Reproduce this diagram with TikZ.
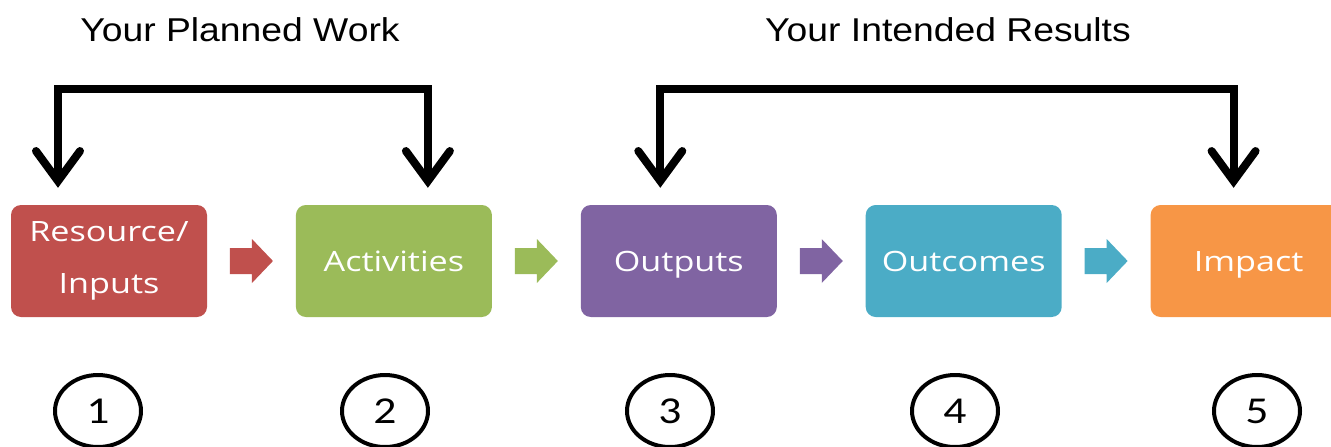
\documentclass[tikz,border=0pt]{standalone}
\usepackage{fontspec}
\usetikzlibrary{arrows.meta,positioning,calc,shapes.geometric}
\newfontfamily\titlefont[FakeStretch=1.13]{Liberation Sans}
\newfontfamily\boxfont[FakeStretch=1.22]{Open Sans}
\newfontfamily\numfont[FakeStretch=1.2]{Carlito}
\definecolor{cred}{HTML}{C0504D}
\definecolor{cgreen}{HTML}{9BBB59}
\definecolor{cpurple}{HTML}{8064A2}
\definecolor{cblue}{HTML}{4BACC6}
\definecolor{corange}{HTML}{F79646}
\begin{document}
\begin{tikzpicture}[x=1pt,y=-1pt,line join=round,line cap=round]
	\tikzset{stage/.style={rounded corners=10pt,minimum width=196pt,minimum height=112pt,inner sep=0pt,text=white,align=center,font=\boxfont\fontsize{28}{52}\selectfont},
		oneline/.style={stage,text height=20pt,text depth=0pt},
		bracket/.style={line width=8pt,line join=miter,line cap=butt,{Straight Barb[length=30pt,width=44pt,line cap=round]}-{Straight Barb[length=30pt,width=44pt,line cap=round]}},
		num/.style={ellipse,draw,line width=4pt,minimum width=86pt,minimum height=72pt,inner sep=0pt,font=\numfont\fontsize{38}{38}\selectfont},
		head/.style={font=\titlefont\fontsize{33}{33}\selectfont}}
	\useasboundingbox (0,0) rectangle (1331,447);
	\node[head] (plan) at (240,30) {Your Planned Work};
	\node[head] (intd) at (948,30) {Your Intended Results};
	\node[stage,fill=cred] (res) at (109,261) {Resource/\\Inputs};
	\node[oneline,fill=cgreen,right=88.5pt of res] (act) {Activities};
	\node[oneline,fill=cpurple,right=88.5pt of act] (out) {Outputs};
	\node[oneline,fill=cblue,right=88.5pt of out] (outc) {Outcomes};
	\node[oneline,fill=corange,right=88.5pt of outc] (imp) {Impact};
	\foreach \a/\b/\c in {res/act/cred,act/out/cgreen,out/outc/cpurple,outc/imp/cblue}
	\fill[\c] ($(\a.east)!.5!(\b.west)$) ++(-21.5,-13) -- ++(22,0) -- ++(0,-9) -- ++(21,22) -- ++(-21,22) -- ++(0,-9) -- ++(-22,0) -- cycle;
	\coordinate (top) at (0,89);
	\draw[bracket] ([xshift=-51pt,yshift=17pt]res.north) -- ([xshift=-51pt]res.north |- top) -- ([xshift=34pt]act.north |- top) -- ([xshift=34pt,yshift=17pt]act.north);
	\draw[bracket] ([xshift=-18.5pt,yshift=17pt]out.north) -- ([xshift=-18.5pt]out.north |- top) -- ([xshift=-15pt]imp.north |- top) -- ([xshift=-15pt,yshift=17pt]imp.north);
	\foreach \x/\k in {98/1,385/2,670/3,955/4,1257/5}
	\node[num] (n\k) at (\x,411) {\k};
\end{tikzpicture}
\end{document}
